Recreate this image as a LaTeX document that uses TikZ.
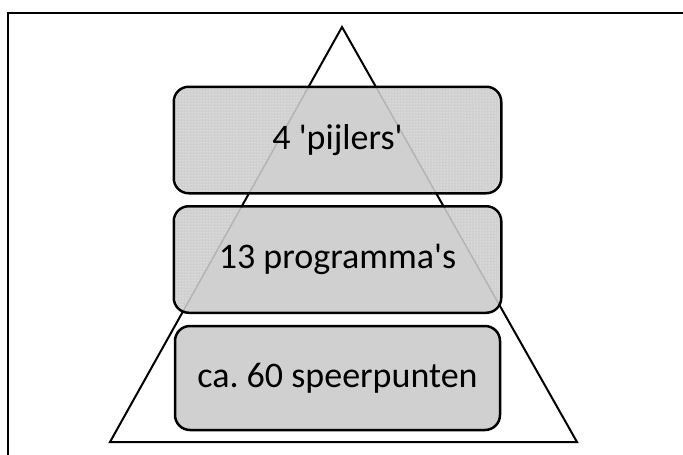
\documentclass[tikz,border=0pt]{standalone}
\usepackage{fontspec}
\newfontfamily\tierfont{Carlito}
\usetikzlibrary{patterns}

\definecolor{tiergray}{HTML}{D0D0D0}
\definecolor{leggray}{HTML}{B4B4B4}

\tikzset{
  tier/.style={rectangle, rounded corners=15, minimum width=325, minimum height=104,
    inner sep=0pt, fill=tiergray, line width=2.5},
  tierline/.style={line width=2.5, rounded corners=15},
  tiertext/.style={inner sep=0pt, font=\tierfont\frenchspacing\fontsize{36}{40}\selectfont}
}

\begin{document}
\begin{tikzpicture}[x=1pt,y=-1pt]
  \useasboundingbox (0,0) rectangle (683,455);
  % frame, only top and left are visible
  \draw[line width=1.2] (683,13) -- (8,13) -- (8,455);
  % pyramid
  \coordinate (apex) at (342,27);
  \coordinate (baseL) at (110,442);
  \coordinate (baseR) at (577,442);
  \filldraw[fill=white, line width=2] (apex) -- (baseL) -- (baseR) -- cycle;
  % upper two tiers
  \node[tier] (pijlers) at (337.5,140) {};
  \node[tier] (programmas) at (337.5,259.5) {};
  % dotted where they stick out of the pyramid
  \begin{scope}[even odd rule]
    \clip (0,0) rectangle (683,455) (apex) -- (baseL) -- (baseR) -- cycle;
    \foreach \t in {pijlers,programmas}
      \fill[pattern=dots, pattern color=white, rounded corners=15] (\t.south west) rectangle (\t.north east);
  \end{scope}
  % pyramid legs seen through
  \begin{scope}[rounded corners=15]
    \clip (pijlers.south west) rectangle (pijlers.north east)
      (programmas.south west) rectangle (programmas.north east);
    \draw[line width=1.5, leggray] (baseL) -- (apex) -- (baseR);
  \end{scope}
  \foreach \t in {pijlers,programmas}
    \draw[tierline] (\t.south west) rectangle (\t.north east);
  % bottom tier
  \node[tier, draw] (speerpunten) at (337.5,378) {};
  % labels
  \node[tiertext] (pijlersText) at (pijlers) {4 'pijlers'};
  \node[tiertext] (programmasText) at (programmas) {13 programma's};
  \node[tiertext] (speerpuntenText) at (speerpunten) {ca. 60 speerpunten};
\end{tikzpicture}
\end{document}
